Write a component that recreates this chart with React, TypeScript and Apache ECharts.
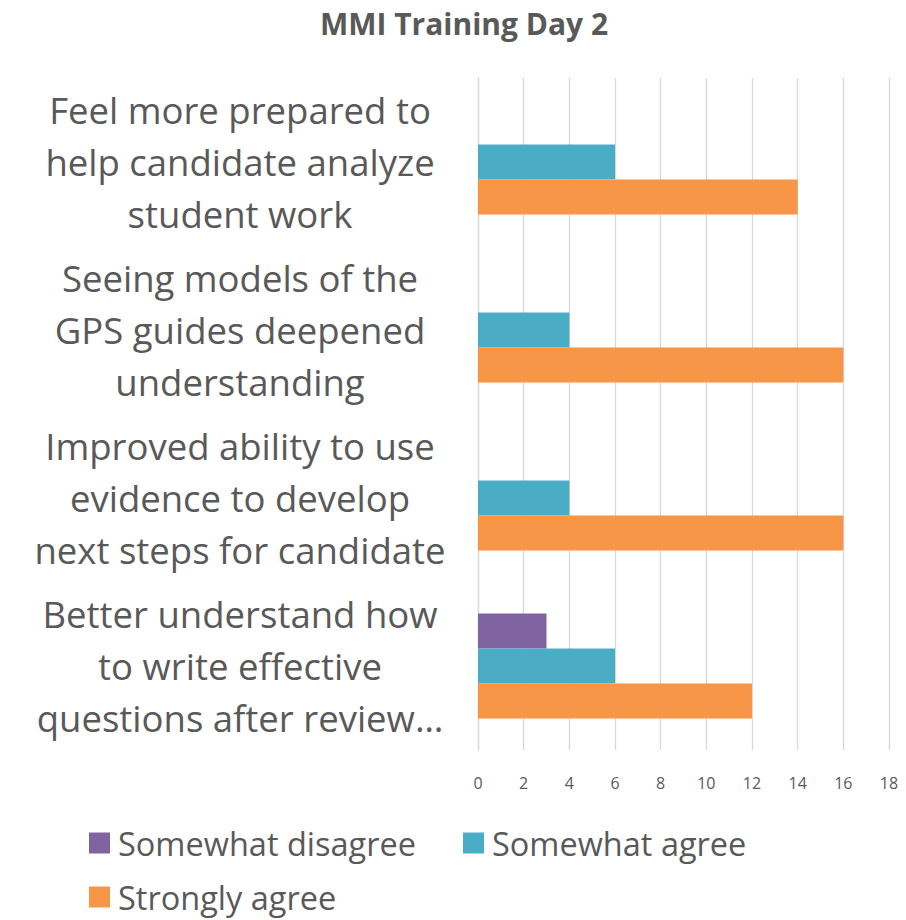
import React, { useEffect, useRef } from "react";
import * as echarts from "echarts";

const categories = [
  "Feel more prepared to\nhelp candidate analyze\nstudent work",
  "Seeing models of the\nGPS guides deepened\nunderstanding",
  "Improved ability to use\nevidence to develop\nnext steps for candidate",
  "Better understand how\nto write effective\nquestions after review…",
];
const seriesNames = ["Somewhat disagree", "Somewhat agree", "Strongly agree"];
const somewhatDisagree = [0, 0, 0, 3];
const somewhatAgree = [6, 4, 4, 6];
const stronglyAgree = [14, 16, 16, 12];
const colors = ["#8064A2", "#4BACC6", "#F79646"];
const title = "MMI Training Day 2";

const FONT = "'Open Sans', sans-serif";
const TEXT = "#595959";

export default function App() {
  const ref = useRef<HTMLDivElement>(null);
  useEffect(() => {
    document.body.style.margin = "0";
    const chart = echarts.init(ref.current!, null, { renderer: "svg" });
    const values = [somewhatDisagree, somewhatAgree, stronglyAgree];
    const legendText = {
      fontFamily: FONT,
      fontSize: 32.5,
      lineHeight: 34,
      color: TEXT,
      padding: [0, 0, 0, 3],
    };
    chart.setOption({
      animation: false,
      textStyle: { fontFamily: FONT },
      graphic: [
        {
          type: "text",
          x: 464,
          y: 23,
          style: {
            text: title,
            fontFamily: FONT,
            fontSize: 30,
            fontWeight: "bold",
            fill: TEXT,
            textAlign: "center",
            textVerticalAlign: "middle",
          },
        },
      ],
      legend: [
        {
          data: [seriesNames[0], seriesNames[1]],
          left: 89,
          top: 826,
          padding: 0,
          itemWidth: 21,
          itemHeight: 21,
          itemGap: 47,
          icon: "rect",
          textStyle: legendText,
        },
        {
          data: [seriesNames[2]],
          left: 89,
          top: 880,
          padding: 0,
          itemWidth: 21,
          itemHeight: 21,
          icon: "rect",
          textStyle: legendText,
        },
      ],
      grid: { left: 478, right: 17, top: 78, bottom: 170, containLabel: false },
      xAxis: {
        type: "value",
        min: 0,
        max: 18,
        interval: 2,
        axisLine: { show: false },
        axisTick: { show: false },
        splitLine: { show: true, lineStyle: { color: "#d9d9d9", width: 1.3 } },
        axisLabel: { color: TEXT, fontSize: 16, fontFamily: FONT, margin: 25 },
      },
      yAxis: {
        type: "category",
        data: categories,
        inverse: true,
        axisLine: { show: true, lineStyle: { color: "#d9d9d9", width: 1.3 } },
        axisTick: { show: false },
        axisLabel: {
          color: TEXT,
          fontSize: 36.5,
          fontFamily: FONT,
          align: "center",
          margin: 238,
          lineHeight: 52,
        },
      },
      series: seriesNames.map((name, i) => ({
        name,
        type: "bar",
        data: values[i],
        barGap: "0%",
        barCategoryGap: "37.5%",
        itemStyle: { color: colors[i] },
      })),
    });
    return () => chart.dispose();
  }, []);
  return <div ref={ref} style={{ width: 906, height: 920 }} />;
}
